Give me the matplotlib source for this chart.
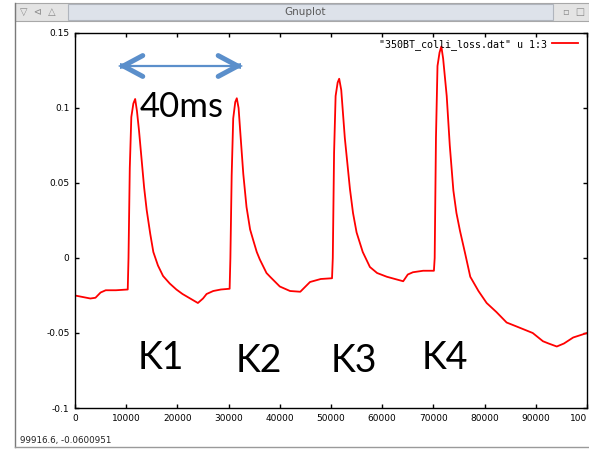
import matplotlib
matplotlib.use('Agg')
import matplotlib.pyplot as plt
from matplotlib.patches import Rectangle
from matplotlib.lines import Line2D
from matplotlib.ticker import FixedLocator, FixedFormatter

# beam loss trace (x in samples, y in loss units)
time = [0, 1500, 3000, 4000, 5000, 6000, 8000, 10300,
        10450, 10700, 11000, 11400, 11750, 12100, 12500, 13000, 13500, 14000,
        14700, 15300, 16200, 17200, 18500, 19800, 21000, 22500, 24000, 25000,
        25700, 27000, 28500, 30200,
        30350, 30600, 30900, 31300, 31600, 31950, 32300, 32870, 33500, 34200,
        34800, 35500, 36100, 37400, 38100, 40000, 42000, 44000, 45900, 48000,
        50200,
        50350, 50600, 50900, 51300, 51600, 52000, 52700, 53700, 54300, 55000,
        56200, 57600, 59000, 60900, 62500, 64100, 65000, 66000, 68000, 70100,
        70250, 70500, 70800, 71200, 71550, 71900, 72600, 73200, 73900, 74500,
        75200, 76200, 77200, 78800, 80400, 82300, 84300, 86500, 89400, 91400,
        92500, 94100, 95500, 97300, 100000]
loss = [-0.025, -0.026, -0.027, -0.0265, -0.023, -0.0215, -0.0215, -0.021,
        0.0, 0.06, 0.094, 0.103, 0.106, 0.098, 0.085, 0.066, 0.047, 0.032,
        0.016, 0.004, -0.005, -0.012, -0.017, -0.021, -0.024, -0.027, -0.030, -0.027,
        -0.024, -0.022, -0.021, -0.0205,
        0.0, 0.055, 0.093, 0.104, 0.1065, 0.100, 0.083, 0.056, 0.034, 0.019,
        0.012, 0.004, -0.001, -0.010, -0.0125, -0.019, -0.022, -0.0225, -0.016, -0.014,
        -0.0135,
        0.0, 0.07, 0.108, 0.117, 0.1195, 0.112, 0.080, 0.046, 0.030, 0.017,
        0.004, -0.006, -0.010, -0.0125, -0.014, -0.0155, -0.011, -0.0095, -0.0085, -0.0085,
        0.0, 0.08, 0.128, 0.137, 0.141, 0.133, 0.108, 0.075, 0.045, 0.030,
        0.018, 0.003, -0.0125, -0.022, -0.030, -0.036, -0.043, -0.046, -0.050, -0.0555,
        -0.057, -0.059, -0.057, -0.053, -0.050]

xticks = [0, 10000, 20000, 30000, 40000, 50000, 60000, 70000, 80000, 90000, 100000]
# the last label is cut by the window edge in the screenshot
xtick_labels = ['0', '10000', '20000', '30000', '40000', '50000', '60000',
                '70000', '80000', '90000', '100']
yticks = [-0.1, -0.05, 0, 0.05, 0.1, 0.15]
ytick_labels = ['-0.1', '-0.05', '0', '0.05', '0.1', '0.15']

kick_names = ['K1', 'K2', 'K3', 'K4']
kick_x = [16800, 35900, 54500, 72300]
kick_y = [-0.0667, -0.069, -0.069, -0.0667]

W, H = 589, 449
fig = plt.figure(figsize=(W / 100, H / 100), dpi=100, facecolor='white')


def fx(px):
    return px / W


def fy(py):
    return 1 - py / H


# window chrome
fig.patches.append(Rectangle((fx(15), fy(21)), fx(589 - 15), 18 / H, transform=fig.transFigure,
                             facecolor='#e4e4e4', edgecolor='#a8a8a8', lw=0.8))
fig.patches.append(Rectangle((fx(68), fy(20)), fx(553 - 68), 16 / H, transform=fig.transFigure,
                             facecolor='#dde2ea', edgecolor='#b0b5bd', lw=0.8))
fig.lines.append(Line2D([fx(15), fx(15)], [fy(3), fy(447)], transform=fig.transFigure,
                        color='#7a7a7a', lw=1))
fig.lines.append(Line2D([fx(15), fx(589)], [fy(447), fy(447)], transform=fig.transFigure,
                        color='#9a9a9a', lw=1))
fig.text(fx(305), fy(12), 'Gnuplot', ha='center', va='center', fontsize=7.5,
         color='#5a5a5a', family='DejaVu Sans')
fig.text(fx(20), fy(12), '\u25bd  \u22b2  \u25b3', ha='left', va='center', fontsize=7,
         color='#8a8a8a', family='DejaVu Sans')
fig.text(fx(563), fy(12), '\u25ab  \u25a1', ha='left', va='center', fontsize=7,
         color='#8a8a8a', family='DejaVu Sans')
fig.text(fx(20), fy(440), '99916.6, -0.0600951', ha='left', va='center', fontsize=6.3,
         color='#222222', family='DejaVu Sans')

ax = fig.add_axes([fx(75), fy(408), fx(587 - 75), (408 - 33) / H])
ax.plot(time, loss, color='red', lw=1.3, label='"350BT_colli_loss.dat" u 1:3')
ax.set_xlim(0, 100000)
ax.set_ylim(-0.1, 0.15)

ax.xaxis.set_major_locator(FixedLocator(xticks))
ax.xaxis.set_major_formatter(FixedFormatter(xtick_labels))
ax.yaxis.set_major_locator(FixedLocator(yticks))
ax.yaxis.set_major_formatter(FixedFormatter(ytick_labels))
ax.tick_params(direction='in', length=3, width=1, top=True, right=True,
               labelsize=6.5, pad=4, colors='black')
ax.get_xticklabels()[-1].set_horizontalalignment('right')
for s in ax.spines.values():
    s.set_linewidth(1)

leg = ax.legend(loc='upper right', bbox_to_anchor=(1.0, 1.008), frameon=False,
                markerfirst=False, handlelength=2.6, handletextpad=0.5,
                borderaxespad=0.5, prop={'family': 'DejaVu Sans Mono', 'size': 7.2})

# annotations pasted on the screenshot
arrow_c = '#5B8FCB'
ax.plot([8700, 32500], [0.128, 0.128], color=arrow_c, lw=1.6, solid_capstyle='butt')
ax.annotate('', xy=(8400, 0.128), xytext=(9400, 0.128),
            arrowprops=dict(arrowstyle='->,head_length=1.4,head_width=0.75',
                            color=arrow_c, lw=3.6, capstyle='round', joinstyle='miter'))
ax.annotate('', xy=(32800, 0.128), xytext=(31800, 0.128),
            arrowprops=dict(arrowstyle='->,head_length=1.4,head_width=0.75',
                            color=arrow_c, lw=3.6, capstyle='round', joinstyle='miter'))
ax.text(20800, 0.1009, '40ms', ha='center', va='center', fontsize=25,
        family=['Lato', 'DejaVu Sans'], color='black')
for name, kx, ky in zip(kick_names, kick_x, kick_y):
    ax.text(kx, ky, name, ha='center', va='center', fontsize=27,
            family=['Lato', 'DejaVu Sans'], color='black')

fig.savefig('out.png', dpi=100, facecolor='white')
